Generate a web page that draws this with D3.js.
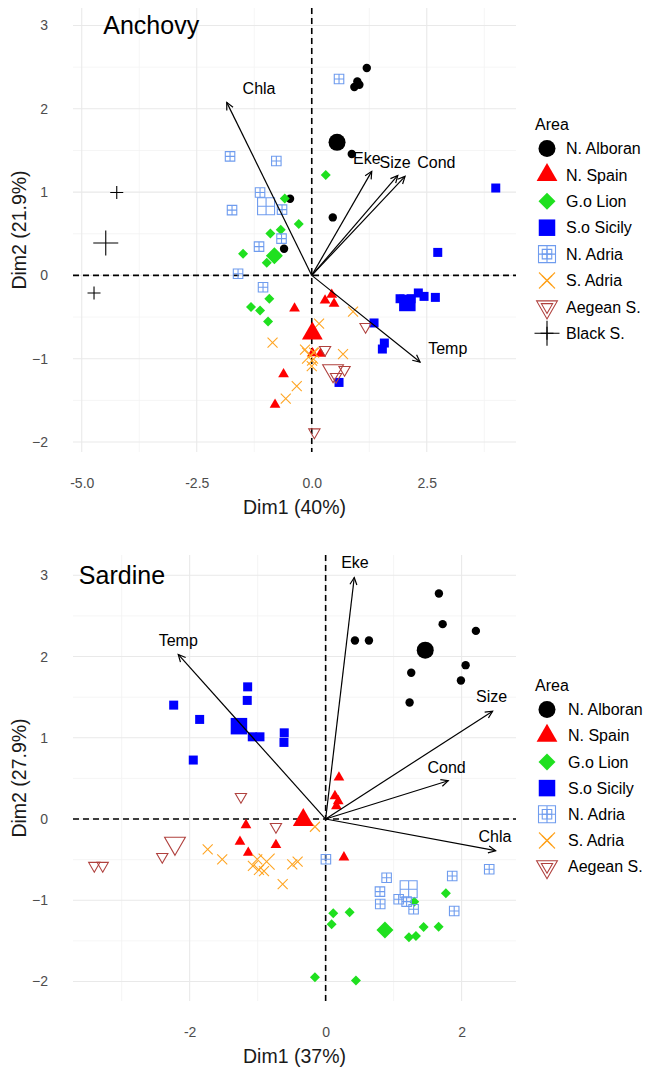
<!DOCTYPE html>
<html><head><meta charset="utf-8">
<script src="https://cdn.jsdelivr.net/npm/d3@7"></script>
<style>body{margin:0;background:#fff}svg{display:block}text{font-family:"Liberation Sans",Arial,Helvetica,sans-serif}</style>
</head><body><svg id="c" width="648" height="1068"></svg>
<script>
// ---------- data ----------
const areas = ["N. Alboran","N. Spain","G.o Lion","S.o Sicily","N. Adria","S. Adria","Aegean S.","Black S."];
const areaColors = ["#000000","#ff0000","#1fe01f","#0000ff","#6f9cee","#ffa523","#b0413e","#000000"];
const areaShapes = ["circle","triUp","diamond","square","sqplus","x","triDown","plus"];

const anchovyPoints = [
 ["N. Alboran",1.196,2.49],["N. Alboran",0.991,2.329],["N. Alboran",1.035,2.289],["N. Alboran",0.926,2.262],
 ["N. Alboran",0.870,1.457],["N. Alboran",0.457,0.696],["N. Alboran",-0.472,0.921],["N. Alboran",-0.602,0.320],
 ["N. Spain",0.435,-0.232],["N. Spain",0.289,-0.30],["N. Spain",0.485,-0.34],["N. Spain",-0.374,-0.396],
 ["N. Spain",0.191,-0.94],["N. Spain",0.017,-0.934],["N. Spain",-0.613,-1.186],["N. Spain",-0.798,-1.552],
 ["G.o Lion",0.304,1.205],["G.o Lion",-0.587,0.924],["G.o Lion",-0.283,0.617],["G.o Lion",-0.674,0.549],
 ["G.o Lion",-0.90,0.504],["G.o Lion",-1.493,0.26],["G.o Lion",-0.978,0.152],["G.o Lion",-0.922,-0.28],
 ["G.o Lion",-1.32,-0.379],["G.o Lion",-1.124,-0.42],["G.o Lion",-0.95,-0.552],
 ["S.o Sicily",4.0,1.049],["S.o Sicily",2.739,0.276],["S.o Sicily",1.92,-0.28],["S.o Sicily",2.028,-0.316],
 ["S.o Sicily",2.159,-0.28],["S.o Sicily",2.317,-0.211],["S.o Sicily",2.441,-0.252],["S.o Sicily",2.687,-0.264],
 ["S.o Sicily",1.354,-0.571],["S.o Sicily",1.578,-0.812],["S.o Sicily",1.535,-0.884],["S.o Sicily",0.593,-1.285],
 ["N. Adria",0.593,2.358],["N. Adria",-1.776,1.429],["N. Adria",-0.77,1.373],["N. Adria",-1.124,0.996],
 ["N. Adria",-0.646,0.789],["N. Adria",-1.733,0.783],["N. Adria",-0.657,0.441],["N. Adria",-1.146,0.345],
 ["N. Adria",-1.602,0.02],["N. Adria",-1.059,-0.142],
 ["S. Adria",0.898,-0.436],["S. Adria",0.159,-0.58],["S. Adria",-0.852,-0.808],["S. Adria",-0.146,-0.892],
 ["S. Adria",0.05,-0.928],["S. Adria",0.007,-1.024],["S. Adria",0.0,-1.09],["S. Adria",0.68,-0.946],
 ["S. Adria",-0.326,-1.33],["S. Adria",-0.565,-1.48],
 ["Aegean S.",1.17,-0.616],["Aegean S.",0.289,-0.892],["Aegean S.",0.713,-1.132],["Aegean S.",0.528,-1.216],
 ["Aegean S.",0.057,-1.882],
 ["Black S.",-4.239,0.996],["Black S.",-4.733,-0.211]
];
const anchovyCentroids = [
 ["N. Alboran",0.55,1.597],["N. Spain",0.013,-0.697],["G.o Lion",-0.813,0.236],["S.o Sicily",2.078,-0.331],
 ["N. Adria",-0.993,0.831],["S. Adria",-0.037,-0.964],["Aegean S.",0.463,-1.144],["Black S.",-4.478,0.389]
];
const anchovyVars = ["Chla","Eke","Size","Cond","Temp"];
const anchovyVarX = [-1.848,1.304,1.87,2.028,2.354];
const anchovyVarY = [2.077,1.249,1.20,1.189,-1.04];
const anchovyLabelX = [-1.146,1.196,1.811,2.709,2.957];
const anchovyLabelY = [2.25,1.409,1.361,1.361,-0.872];
const anchovyXTicks = [-5,-2.5,0,2.5];
const anchovyXTickLabels = ["-5.0","-2.5","0.0","2.5"];
const anchovyXMinor = [-3.75,-1.25,1.25,3.75];
const anchovyYTicks = [-2,-1,0,1,2,3];
const anchovyYMinor = [-1.5,-0.5,0.5,1.5,2.5];

const sardinePoints = [
 ["N. Alboran",1.666,2.776],["N. Alboran",1.721,2.399],["N. Alboran",2.21,2.316],["N. Alboran",0.431,2.198],
 ["N. Alboran",0.637,2.198],["N. Alboran",2.059,1.894],["N. Alboran",1.259,1.80],["N. Alboran",1.99,1.706],
 ["N. Alboran",1.235,1.435],
 ["N. Spain",0.196,0.513],["N. Spain",0.137,0.283],["N. Spain",0.185,0.221],["N. Spain",0.159,0.16],
 ["N. Spain",-1.172,-0.074],["N. Spain",-1.26,-0.279],["N. Spain",-1.138,-0.415],["N. Spain",-0.731,-0.32],
 ["N. Spain",0.269,-0.471],
 ["G.o Lion",0.112,-1.16],["G.o Lion",0.088,-1.295],["G.o Lion",0.353,-1.148],["G.o Lion",1.225,-1.455],
 ["G.o Lion",1.328,-1.439],["G.o Lion",1.441,-1.328],["G.o Lion",1.662,-1.325],["G.o Lion",1.769,-0.914],
 ["G.o Lion",1.303,-1.017],["G.o Lion",0.446,-1.989],["G.o Lion",-0.157,-1.947],
 ["S.o Sicily",-1.147,1.627],["S.o Sicily",-1.153,1.46],["S.o Sicily",-2.235,1.402],["S.o Sicily",-1.853,1.226],
 ["S.o Sicily",-1.079,1.012],["S.o Sicily",-0.966,1.012],["S.o Sicily",-0.609,1.061],["S.o Sicily",-0.613,0.943],
 ["S.o Sicily",-1.947,0.726],
 ["N. Adria",0.004,-0.496],["N. Adria",0.897,-0.722],["N. Adria",0.799,-0.894],["N. Adria",0.803,-1.046],
 ["N. Adria",1.074,-0.988],["N. Adria",1.191,-1.017],["N. Adria",1.294,-1.111],["N. Adria",1.862,-0.701],
 ["N. Adria",1.891,-1.132],["N. Adria",2.406,-0.619],
 ["S. Adria",-0.157,-0.095],["S. Adria",-1.735,-0.373],["S. Adria",-1.521,-0.496],["S. Adria",-1.006,-0.496],
 ["S. Adria",-0.981,-0.627],["S. Adria",-0.907,-0.64],["S. Adria",-0.491,-0.557],["S. Adria",-0.412,-0.525],
 ["S. Adria",-0.632,-0.80],["S. Adria",-1.07,-0.578],
 ["Aegean S.",-1.246,0.274],["Aegean S.",-0.731,-0.095],["Aegean S.",-2.403,-0.464],["Aegean S.",-3.403,-0.574],
 ["Aegean S.",-3.279,-0.574]
];
const sardineCentroids = [
 ["N. Alboran",1.465,2.079],["N. Spain",-0.329,-0.012],["G.o Lion",0.872,-1.365],["S.o Sicily",-1.275,1.143],
 ["N. Adria",1.221,-0.865],["S. Adria",-0.868,-0.525],["Aegean S.",-2.216,-0.299]
];
const sardineVars = ["Eke","Temp","Size","Cond","Chla"];
const sardineVarX = [0.421,-2.168,2.456,1.803,2.50];
const sardineVarY = [2.973,2.026,1.328,0.471,-0.39];
const sardineLabelX = [0.431,-2.168,2.441,1.779,2.49];
const sardineLabelY = [3.165,2.202,1.504,0.631,-0.209];
const sardineXTicks = [-2,0,2];
const sardineXTickLabels = ["-2","0","2"];
const sardineXMinor = [-3,-1,1];
const sardineYTicks = [-2,-1,0,1,2,3];
const sardineYMinor = [-1.5,-0.5,0.5,1.5,2.5];

// ---------- drawing ----------
const svg = d3.select("#c");
const FONT_TICK = 14, FONT_LAB = 16;

function sym(g, shape, color, x, y, big) {
  switch (shape) {
    case "circle":
      g.append("circle").attr("cx", x).attr("cy", y).attr("r", big ? 8.5 : 4.2).attr("fill", color); break;
    case "triUp": {
      const R = big ? 12 : 6.2;
      g.append("path").attr("d", `M${x},${y-R}L${x+0.866*R},${y+0.5*R}L${x-0.866*R},${y+0.5*R}Z`).attr("fill", color); break; }
    case "diamond": {
      const d = big ? 8.5 : 5;
      g.append("path").attr("d", `M${x},${y-d}L${x+d},${y}L${x},${y+d}L${x-d},${y}Z`).attr("fill", color); break; }
    case "square": {
      const a = big ? 16.5 : 9;
      g.append("rect").attr("x", x-a/2).attr("y", y-a/2).attr("width", a).attr("height", a).attr("fill", color); break; }
    case "sqplus": {
      const a = big ? 17 : 9.5, h = a/2;
      g.append("path").attr("d", `M${x-h},${y-h}h${a}v${a}h${-a}ZM${x-h},${y}h${a}M${x},${y-h}v${a}`)
        .attr("fill", "none").attr("stroke", color).attr("stroke-width", 1.1); break; }
    case "x": {
      const h = big ? 8 : 5;
      g.append("path").attr("d", `M${x-h},${y-h}L${x+h},${y+h}M${x-h},${y+h}L${x+h},${y-h}`)
        .attr("stroke", color).attr("stroke-width", 1.1).attr("fill", "none"); break; }
    case "triDown": {
      const R = big ? 12 : 6.5;
      g.append("path").attr("d", `M${x},${y+R}L${x+0.866*R},${y-0.5*R}L${x-0.866*R},${y-0.5*R}Z`)
        .attr("fill", "none").attr("stroke", color).attr("stroke-width", 1.1); break; }
    case "plus": {
      const h = big ? 12.5 : 6.5;
      g.append("path").attr("d", `M${x-h},${y}H${x+h}M${x},${y-h}V${y+h}`)
        .attr("stroke", color).attr("stroke-width", 1.1).attr("fill", "none"); break; }
  }
}

function panel(cfg) {
  const x = d3.scaleLinear().domain(cfg.xDom).range([73, 516]);
  const y = d3.scaleLinear().domain(cfg.yDom).range([cfg.bottom, cfg.top]);
  const g = svg.append("g");
  cfg.xMinor.forEach(v => g.append("line").attr("x1", x(v)).attr("x2", x(v)).attr("y1", cfg.top).attr("y2", cfg.bottom).attr("stroke", "#f2f2f2").attr("stroke-width", 0.8));
  cfg.yMinor.forEach(v => g.append("line").attr("y1", y(v)).attr("y2", y(v)).attr("x1", 73).attr("x2", 516).attr("stroke", "#f2f2f2").attr("stroke-width", 0.8));
  cfg.xTicks.forEach(v => g.append("line").attr("x1", x(v)).attr("x2", x(v)).attr("y1", cfg.top).attr("y2", cfg.bottom).attr("stroke", "#e9e9e9").attr("stroke-width", 1.1));
  cfg.yTicks.forEach(v => g.append("line").attr("y1", y(v)).attr("y2", y(v)).attr("x1", 73).attr("x2", 516).attr("stroke", "#e9e9e9").attr("stroke-width", 1.1));
  const ax = d3.axisBottom(x).tickValues(cfg.xTicks).tickSize(0).tickPadding(0)
    .tickFormat((d, i) => cfg.xTickLabels[i]);
  const axg = g.append("g").attr("transform", `translate(0,${cfg.bottom + 31})`).call(ax);
  axg.select(".domain").remove();
  axg.selectAll("text").attr("font-size", FONT_TICK).attr("fill", "#4d4d4d").attr("dy", "0.35em").attr("y", 0)
    .attr("font-family", '"Liberation Sans",Arial,sans-serif');
  const ay = d3.axisLeft(y).tickValues(cfg.yTicks).tickSize(0).tickPadding(0).tickFormat(d3.format("d"));
  const ayg = g.append("g").attr("transform", `translate(48,0)`).call(ay);
  ayg.select(".domain").remove();
  ayg.selectAll("text").attr("font-size", FONT_TICK).attr("fill", "#4d4d4d").attr("x", 0)
    .attr("font-family", '"Liberation Sans",Arial,sans-serif');
  g.append("text").attr("x", 294.5).attr("y", cfg.bottom + 55).attr("dy", "0.35em").attr("text-anchor", "middle")
    .attr("font-size", 19.5).attr("fill", "#1a1a1a").text(cfg.xTitle);
  g.append("text").attr("transform", `translate(19,${(cfg.top + cfg.bottom) / 2}) rotate(-90)`).attr("dy", "0.35em")
    .attr("text-anchor", "middle").attr("font-size", 19.5).attr("fill", "#1a1a1a").text(cfg.yTitle);
  g.append("line").attr("x1", 73).attr("x2", 516).attr("y1", y(0)).attr("y2", y(0))
    .attr("stroke", "#000").attr("stroke-width", 1.6).attr("stroke-dasharray", "6,4");
  g.append("line").attr("x1", x(0)).attr("x2", x(0)).attr("y1", cfg.top).attr("y2", cfg.bottom)
    .attr("stroke", "#000").attr("stroke-width", 1.6).attr("stroke-dasharray", "6,4");
  const pg = g.append("g");
  cfg.points.forEach(p => { const i = areas.indexOf(p[0]); sym(pg, areaShapes[i], areaColors[i], x(p[1]), y(p[2]), false); });
  cfg.centroids.forEach(p => { const i = areas.indexOf(p[0]); sym(pg, areaShapes[i], areaColors[i], x(p[1]), y(p[2]), true); });
  cfg.vars.forEach((v, i) => {
    const x0 = x(0), y0 = y(0), x1 = x(cfg.varX[i]), y1 = y(cfg.varY[i]);
    const ang = Math.atan2(y1 - y0, x1 - x0), L = 8, a = Math.PI / 7;
    g.append("line").attr("x1", x0).attr("y1", y0).attr("x2", x1).attr("y2", y1).attr("stroke", "#000").attr("stroke-width", 1.2);
    g.append("path").attr("d", `M${x1 - L*Math.cos(ang - a)},${y1 - L*Math.sin(ang - a)}L${x1},${y1}L${x1 - L*Math.cos(ang + a)},${y1 - L*Math.sin(ang + a)}`)
      .attr("fill", "none").attr("stroke", "#000").attr("stroke-width", 1.2);
    g.append("text").attr("x", x(cfg.labelX[i])).attr("y", y(cfg.labelY[i])).attr("dy", "0.35em").attr("text-anchor", "middle")
      .attr("font-size", FONT_LAB).attr("fill", "#000").text(v);
  });
  g.append("text").attr("x", x(cfg.titleX)).attr("y", y(3)).attr("dy", "0.35em").attr("text-anchor", "middle")
    .attr("font-size", 25).attr("fill", "#000").text(cfg.title);
  const lg = svg.append("g");
  lg.append("text").attr("x", 535).attr("y", cfg.legTop).attr("dy", "0.35em").attr("font-size", FONT_LAB).attr("fill", "#000").text("Area");
  cfg.legAreas.forEach((a, k) => {
    const i = areas.indexOf(a), yy = cfg.legTop + 24.5 + k * cfg.legStep;
    sym(lg, areaShapes[i], areaColors[i], 547, yy, true);
    sym(lg, areaShapes[i], areaColors[i], 547, yy, false);
    lg.append("text").attr("x", cfg.legTextX).attr("y", yy).attr("dy", "0.35em").attr("font-size", FONT_LAB).attr("fill", "#000").text(a);
  });
}

panel({
  xDom: [-5.19, 4.44], yDom: [-2.12, 3.21], top: 8, bottom: 452,
  xTicks: anchovyXTicks, xTickLabels: anchovyXTickLabels, xMinor: anchovyXMinor,
  yTicks: anchovyYTicks, yMinor: anchovyYMinor,
  xTitle: "Dim1 (40%)", yTitle: "Dim2 (21.9%)",
  points: anchovyPoints, centroids: anchovyCentroids,
  vars: anchovyVars, varX: anchovyVarX, varY: anchovyVarY, labelX: anchovyLabelX, labelY: anchovyLabelY,
  title: "Anchovy", titleX: -3.49,
  legTop: 124, legStep: 26.4, legTextX: 566, legAreas: areas
});
panel({
  xDom: [-3.716, 2.80], yDom: [-2.24, 3.25], top: 555, bottom: 1001,
  xTicks: sardineXTicks, xTickLabels: sardineXTickLabels, xMinor: sardineXMinor,
  yTicks: sardineYTicks, yMinor: sardineYMinor,
  xTitle: "Dim1 (37%)", yTitle: "Dim2 (27.9%)",
  points: sardinePoints, centroids: sardineCentroids,
  vars: sardineVars, varX: sardineVarX, varY: sardineVarY, labelX: sardineLabelX, labelY: sardineLabelY,
  title: "Sardine", titleX: -2.996,
  legTop: 685, legStep: 26.2, legTextX: 568, legAreas: areas.slice(0, 7)
});
</script></body></html>
